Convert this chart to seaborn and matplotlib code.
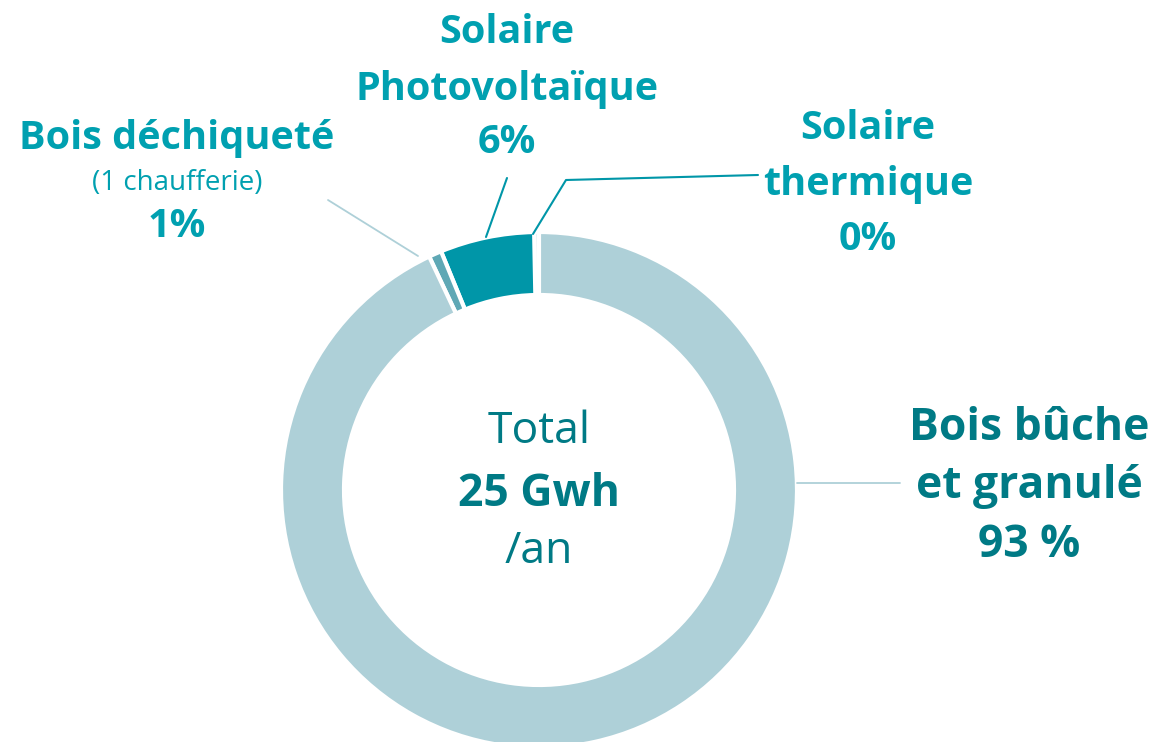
import matplotlib
matplotlib.use("Agg")
import matplotlib.pyplot as plt
import seaborn as sns

# DATA
categories = ["Solaire thermique", "Solaire Photovoltaïque", "Bois déchiqueté", "Bois bûche et granulé"]
shares = [0.3, 5.9, 0.8, 93.0]
pct_labels = ["0%", "6%", "1%", "93 %"]
colors = ["#cfe5ea", "#0096a8", "#5fa8b5", "#aed0d8"]

sns.set_theme(style="white")
plt.rcParams["font.family"] = ["Open Sans", "DejaVu Sans"]

TEAL = "#00a0b0"
DARK = "#007a85"
LIGHT = "#aed0d8"

fig = plt.figure(figsize=(11.55, 7.42), dpi=100)
ax = fig.add_axes([0, 0, 1, 1])

H = 742
cx, cy, r = 539, H - 490, 258

wedges, _ = ax.pie(shares, colors=colors, startangle=90, counterclock=True,
                   center=(cx, cy), radius=r, frame=True,
                   wedgeprops=dict(width=63, edgecolor="white", linewidth=3.0))
ax.set_xlim(0, 1155)
ax.set_ylim(0, 742)
ax.set_aspect("equal")
ax.axis("off")

# leader lines
ax.plot([328, 418], [H - 200, H - 256], color=LIGHT, lw=1.3)
ax.plot([507, 486], [H - 178, H - 237], color="#0096a8", lw=1.5)
ax.plot([758, 566, 533], [H - 175, H - 180, H - 234], color="#0096a8", lw=1.5)
ax.plot([797, 900], [H - 483, H - 483], color=LIGHT, lw=1.3)


def label(x, y, s, size, color, weight="bold"):
    ax.text(x, H - y, s, ha="center", va="baseline", fontsize=size,
            color=color, fontweight=weight)


# Solaire Photovoltaïque
label(507, 43, "Solaire", 28.5, TEAL)
label(507, 100, "Photovoltaïque", 28.5, TEAL)
label(507, 153, pct_labels[1], 28.5, TEAL)

# Bois déchiqueté
label(177, 149, "Bois déchiqueté", 28.5, TEAL)
label(177, 190, "(1 chaufferie)", 20, TEAL, weight="normal")
label(177, 237, pct_labels[2], 28.5, TEAL)

# Solaire thermique
label(868, 139, "Solaire", 28.5, TEAL)
label(868, 195, "thermique", 28.5, TEAL)
label(868, 250, pct_labels[0], 28.5, TEAL)

# Bois bûche et granulé
label(1029, 440, "Bois bûche", 32, DARK)
label(1029, 498, "et granulé", 32, DARK)
label(1029, 557, pct_labels[3], 32, DARK)

# centre
label(539, 443, "Total", 32, DARK, weight="normal")
label(539, 506, "25 Gwh", 32, DARK)
label(539, 563, "/an", 32, DARK, weight="normal")

fig.savefig("out.png", dpi=100, facecolor="white")
